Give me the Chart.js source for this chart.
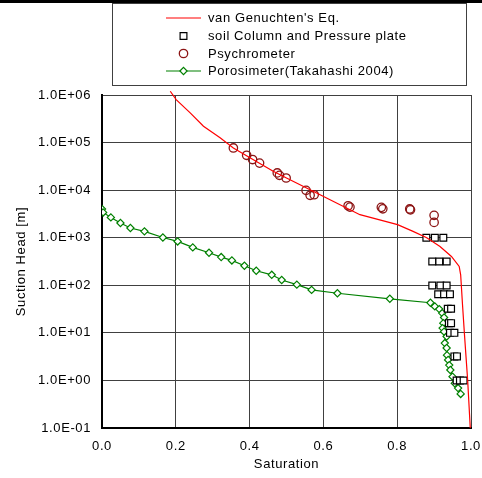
<!DOCTYPE html>
<html>
<head>
<meta charset="utf-8">
<script src="https://cdn.jsdelivr.net/npm/chart.js@4.4.0/dist/chart.umd.min.js"></script>
<style>
  html, body { margin: 0; padding: 0; background: #fff; }
</style>
</head>
<body>
<canvas id="chart" width="482" height="478"></canvas>
<script>
// series names (legend order)
var seriesNames = ["van Genuchten's Eq.", 'soil Column and Pressure plate', 'Psychrometer', 'Porosimeter(Takahashi 2004)'];

// tick labels
var xTickLabels = ['0.0', '0.2', '0.4', '0.6', '0.8', '1.0'];
var yTickValues = [0.1, 1, 10, 100, 1000, 10000, 100000, 1000000];
var yTickLabels = ['1.0E-01', '1.0E+00', '1.0E+01', '1.0E+02', '1.0E+03', '1.0E+04', '1.0E+05', '1.0E+06'];

// van Genuchten's Eq.
var vgSat  = [0.185, 0.201, 0.239, 0.275, 0.320, 0.356, 0.401, 0.464, 0.500, 0.591, 0.699, 0.801, 0.843, 0.880, 0.916, 0.947, 0.968, 0.972, 0.977, 0.982, 0.991, 0.998];
var vgHead = [1.2e6, 8.0e5, 4.2e5, 2.2e5, 1.26e5, 7.7e4, 4.8e4, 2.5e4, 1.8e4, 8.0e3, 3.05e3, 1.88e3, 1.36e3, 1.0e3, 656, 404, 249, 166, 39, 10, 1, 0.1];

// soil column and pressure plate
var spSat  = [0.879, 0.902, 0.925, 0.895, 0.914, 0.934, 0.895, 0.917, 0.934, 0.911, 0.927, 0.943, 0.937, 0.946, 0.940, 0.946, 0.943, 0.955, 0.955, 0.962, 0.961, 0.970, 0.980];
var spHead = [1000, 1000, 1000, 317, 317, 317, 99, 99, 99, 65, 65, 65, 32, 32, 16, 16, 10, 10, 3.2, 3.2, 1.0, 1.0, 1.0];

// psychrometer
var psySat  = [0.356, 0.392, 0.408, 0.427, 0.475, 0.481, 0.499, 0.553, 0.564, 0.575, 0.667, 0.672, 0.757, 0.761, 0.834, 0.836, 0.900, 0.900];
var psyHead = [77000, 54000, 44000, 37000, 23000, 20500, 18000, 9900, 7800, 8000, 4700, 4400, 4350, 4050, 4020, 3850, 2950, 2100];

// porosimeter (Takahashi 2004)
var porSat  = [0.000, 0.003, 0.024, 0.050, 0.077, 0.115, 0.165, 0.205, 0.246, 0.290, 0.323, 0.352, 0.386, 0.418, 0.460, 0.487, 0.528, 0.568, 0.638, 0.780, 0.890, 0.902, 0.914, 0.922, 0.927, 0.925, 0.923, 0.927, 0.934, 0.929, 0.934, 0.935, 0.938, 0.941, 0.944, 0.950, 0.956, 0.965, 0.972];
var porHead = [4000, 3400, 2670, 2040, 1600, 1360, 1010, 835, 625, 483, 392, 333, 258, 202, 166, 129, 103, 80, 68, 52, 43, 36, 31.6, 26, 21, 16, 12.6, 10.6, 8.4, 6.1, 4.8, 3.4, 2.7, 2.1, 1.66, 1.2, 0.87, 0.69, 0.52];

function pts(xs, ys) {
    return xs.map(function(x, i){ return {x: x, y: ys[i]}; });
}

var FONT = 'Liberation Sans, Arial, sans-serif';
Chart.defaults.font.family = FONT;
Chart.defaults.font.size = 13;
Chart.defaults.color = '#000';

// legend in a box, drawn like the original
var boxLegend = {
    id: 'boxLegend',
    beforeDraw: function(chart){
        chart.ctx.letterSpacing = '0.6px';
    },
    afterDraw: function(chart){
        var ctx = chart.ctx;
        ctx.save();
        ctx.fillStyle = '#000';
        ctx.fillRect(0, 0, chart.width, 3);
        ctx.fillStyle = '#fff';
        ctx.fillRect(112, 3, 355, 83);
        ctx.strokeStyle = '#404040';
        ctx.lineWidth = 1;
        ctx.strokeRect(112.5, 3.5, 354, 82);
        var rows = [18, 36, 53.5, 71];
        chart.data.datasets.forEach(function(ds, i){
            var y = rows[i];
            if (ds.showLine) {
                ctx.strokeStyle = ds.borderColor;
                ctx.lineWidth = ds.borderWidth;
                ctx.beginPath(); ctx.moveTo(166, y); ctx.lineTo(201, y); ctx.stroke();
            }
            var r = ds.pointRadius, cx = 183.5;
            if (r > 0) {
                ctx.strokeStyle = ds.pointBorderColor;
                ctx.fillStyle = ds.pointBackgroundColor;
                ctx.lineWidth = ds.pointBorderWidth;
                ctx.beginPath();
                if (ds.pointStyle === 'rect') {
                    var h = r * Math.SQRT1_2;
                    ctx.rect(cx - h, y - h, 2 * h, 2 * h);
                } else if (ds.pointStyle === 'rectRot') {
                    ctx.moveTo(cx - r, y); ctx.lineTo(cx, y - r); ctx.lineTo(cx + r, y); ctx.lineTo(cx, y + r); ctx.closePath();
                } else {
                    ctx.arc(cx, y, r, 0, Math.PI * 2);
                }
                ctx.fill(); ctx.stroke();
            }
            ctx.fillStyle = '#000';
            ctx.font = '13px ' + FONT;
            ctx.letterSpacing = '0.6px';
            ctx.textBaseline = 'middle';
            ctx.textAlign = 'left';
            ctx.fillText(ds.label, 208, y + 0.5);
        });
        ctx.restore();
    }
};

var ctx = document.getElementById('chart');
var chart = new Chart(ctx, {
    type: 'scatter',
    data: {
        datasets: [
            {
                label: seriesNames[0],
                data: pts(vgSat, vgHead),
                showLine: true,
                borderColor: 'rgb(255,0,0)',
                borderWidth: 1.2,
                pointRadius: 0,
                pointStyle: 'circle',
                pointBorderColor: 'rgb(255,0,0)',
                pointBackgroundColor: 'rgb(255,0,0)',
                pointBorderWidth: 0,
                clip: 8
            },
            {
                label: seriesNames[1],
                data: pts(spSat, spHead),
                showLine: false,
                pointStyle: 'rect',
                pointRadius: 4.8,
                pointBorderColor: '#000',
                pointBackgroundColor: '#fff',
                pointBorderWidth: 1.2
            },
            {
                label: seriesNames[2],
                data: pts(psySat, psyHead),
                showLine: false,
                pointStyle: 'circle',
                pointRadius: 4.2,
                pointBorderColor: 'rgb(140,20,20)',
                pointBackgroundColor: 'rgba(255,255,255,0)',
                pointBorderWidth: 1.3
            },
            {
                label: seriesNames[3],
                data: pts(porSat, porHead),
                showLine: true,
                borderColor: 'rgb(0,128,0)',
                borderWidth: 1.2,
                pointStyle: 'rectRot',
                pointRadius: 3.6,
                pointBorderColor: 'rgb(0,128,0)',
                pointBackgroundColor: '#fff',
                pointBorderWidth: 1.2
            }
        ]
    },
    options: {
        responsive: false,
        animation: false,
        events: [],
        layout: { padding: { top: 95, right: 11, left: 0, bottom: 0 } },
        plugins: {
            legend: { display: false },
            tooltip: { enabled: false }
        },
        scales: {
            x: {
                type: 'linear',
                min: 0,
                max: 1,
                afterBuildTicks: function(scale){
                    scale.ticks = xTickLabels.map(function(t){ return {value: parseFloat(t)}; });
                },
                ticks: {
                    padding: 11,
                    maxRotation: 0,
                    callback: function(v, i){ return xTickLabels[i]; }
                },
                grid: { color: '#404040', lineWidth: 1, drawTicks: false },
                border: { color: '#000', width: 2 },
                title: { display: true, text: 'Saturation', padding: { top: 0, bottom: 6 } },
                afterFit: function(scale){
                    scale.height = 50;
                    scale.paddingLeft = 0;
                    scale.paddingRight = 0;
                }
            },
            y: {
                type: 'logarithmic',
                min: 0.1,
                max: 1000000,
                afterBuildTicks: function(scale){
                    scale.ticks = yTickValues.map(function(v){ return {value: v}; });
                },
                ticks: {
                    padding: 11,
                    callback: function(v, i){ return yTickLabels[i]; }
                },
                grid: { color: '#404040', lineWidth: 1, drawTicks: false },
                border: { color: '#000', width: 2 },
                title: { display: true, text: 'Suction Head [m]', padding: { top: 14, bottom: 0 } },
                afterFit: function(scale){
                    scale.width = 102;
                    scale.paddingTop = 0;
                    scale.paddingBottom = 0;
                }
            }
        }
    },
    plugins: [boxLegend]
});
</script>
</body>
</html>
